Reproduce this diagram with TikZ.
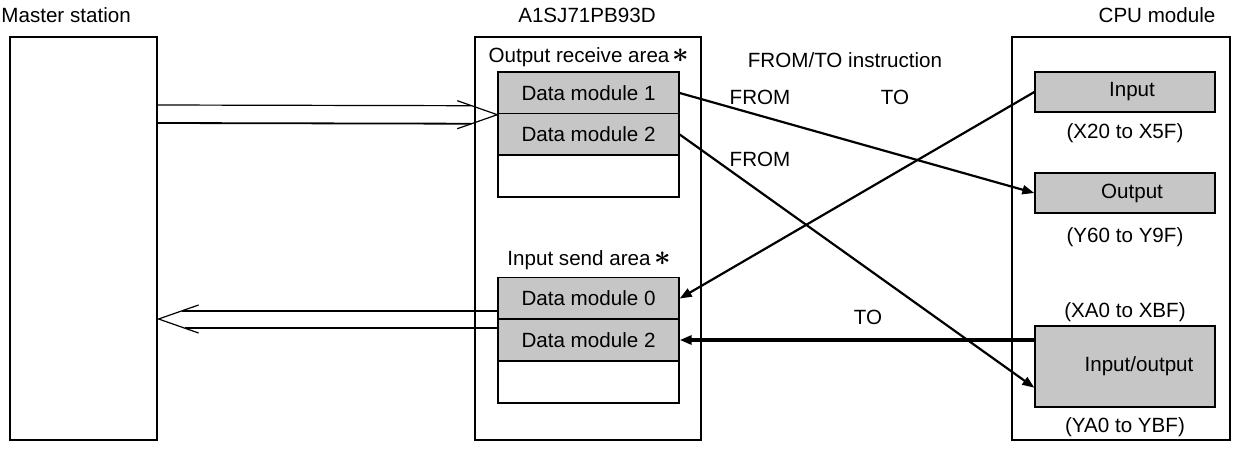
\documentclass[tikz,border=0pt]{standalone}
\usepackage{fontspec}
\setmainfont{Liberation Sans}
\usetikzlibrary{arrows.meta,calc}
\newcommand{\bigast}{\,{\fontsize{15}{15}\selectfont\boldmath$\ast$}}
\begin{document}
\begin{tikzpicture}[x=0.5pt,y=-0.5pt,
  every node/.style={font=\fontsize{10.3}{12}\selectfont, inner sep=0pt},
  bigbox/.style={draw, line width=0.6pt, minimum height=201.5pt},
  dmbox/.style={draw, line width=0.7pt, fill=gray!45, minimum width=90.5pt, minimum height=21pt},
  emptybox/.style={draw, line width=0.7pt, fill=white, minimum width=90.5pt, minimum height=21pt},
  cpubox/.style={draw, line width=0.7pt, fill=gray!45, minimum width=90pt},
  conn/.style={line width=1.1pt, -{Triangle[length=6pt,width=4.5pt]}},
  thickconn/.style={line width=1.6pt, -{Triangle[length=6pt,width=4.5pt]}},
  dbl/.style={line width=0.6pt}]
\useasboundingbox (0,0) rectangle (1240,451);
% big boxes
\node[bigbox, minimum width=73.5pt] (master) at (83.5,238.5) {};
\node[bigbox, minimum width=113pt] (slave) at (588,238.5) {};
\node[bigbox, minimum width=109pt] (cpu) at (1121,238.5) {};
\node[anchor=west] (tmaster) at (1,15) {Master station};
\node (tslave) at (587,15) {A1SJ71PB93D};
\node (tcpu) at (1157,15) {CPU module};
% output receive area
\node (tora) at (589,57) {Output receive area\bigast};
\node[dmbox] (dm1) at (588.5,93) {Data module 1};
\node[dmbox] (dm2) at (588.5,134.5) {Data module 2};
\node[emptybox] (dme1) at (588.5,176) {};
% input send area
\node (tisa) at (589,260) {Input send area\bigast};
\node[dmbox] (dm0b) at (588.5,298.5) {Data module 0};
\node[dmbox] (dm2b) at (588.5,340) {Data module 2};
\node[emptybox] (dme2) at (588.5,382) {};
% CPU modules
\node[cpubox, minimum height=20pt] (in) at (1125,92) {\hspace*{7pt}Input};
\node (tin) at (1125,133) {(X20 to X5F)};
\node[cpubox, minimum height=20pt] (out) at (1125,193) {\hspace*{7pt}Output};
\node (tout) at (1125,237) {(Y60 to Y9F)};
\node[cpubox, minimum height=40.5pt] (io) at (1125,366.5) {\hspace*{14pt}Input/output};
\node (tio1) at (1125,312) {(XA0 to XBF)};
\node (tio2) at (1125,427) {(YA0 to YBF)};
% labels
\node (tft) at (845,60) {FROM/TO instruction};
\node (lf1) at (760,97) {FROM};
\node (lt1) at (895,97) {TO};
\node (lf2) at (760,159) {FROM};
\node (lt2) at (868,317) {TO};
% connectors
\draw[conn] (dm1.east) -- (out.west);
\draw[conn] (dm2.east) -- ($(io.south west)+(0,-20)$);
\draw[conn] (in.west) -- (dm0b.east);
\draw[thickconn] (dm2b.east -| io.west) -- (dm2b.east);
% double arrow master -> output receive area
\coordinate (tipA) at (dm1.south west);
\draw[dbl] (master.east |- 0,105) -- ($(tipA)+(-26,-9)$);
\draw[dbl, line width=0.9pt] (master.east |- 0,123) -- ($(tipA)+(-26,9)$);
\draw[dbl] ($(tipA)+(-40,-14)$) -- (tipA) -- ($(tipA)+(-40,14)$);
% double arrow input send area -> master
\coordinate (tipB) at ($(master.east |- 0,319)+(1,0)$);
\draw[dbl, line width=1pt] (dm0b.south west |- 0,311) -- ($(tipB)+(23,-8)$);
\draw[dbl] (dm0b.south west |- 0,328) -- ($(tipB)+(26,9)$);
\draw[dbl] ($(tipB)+(40,-14)$) -- (tipB) -- ($(tipB)+(40,14)$);
\end{tikzpicture}
\end{document}
